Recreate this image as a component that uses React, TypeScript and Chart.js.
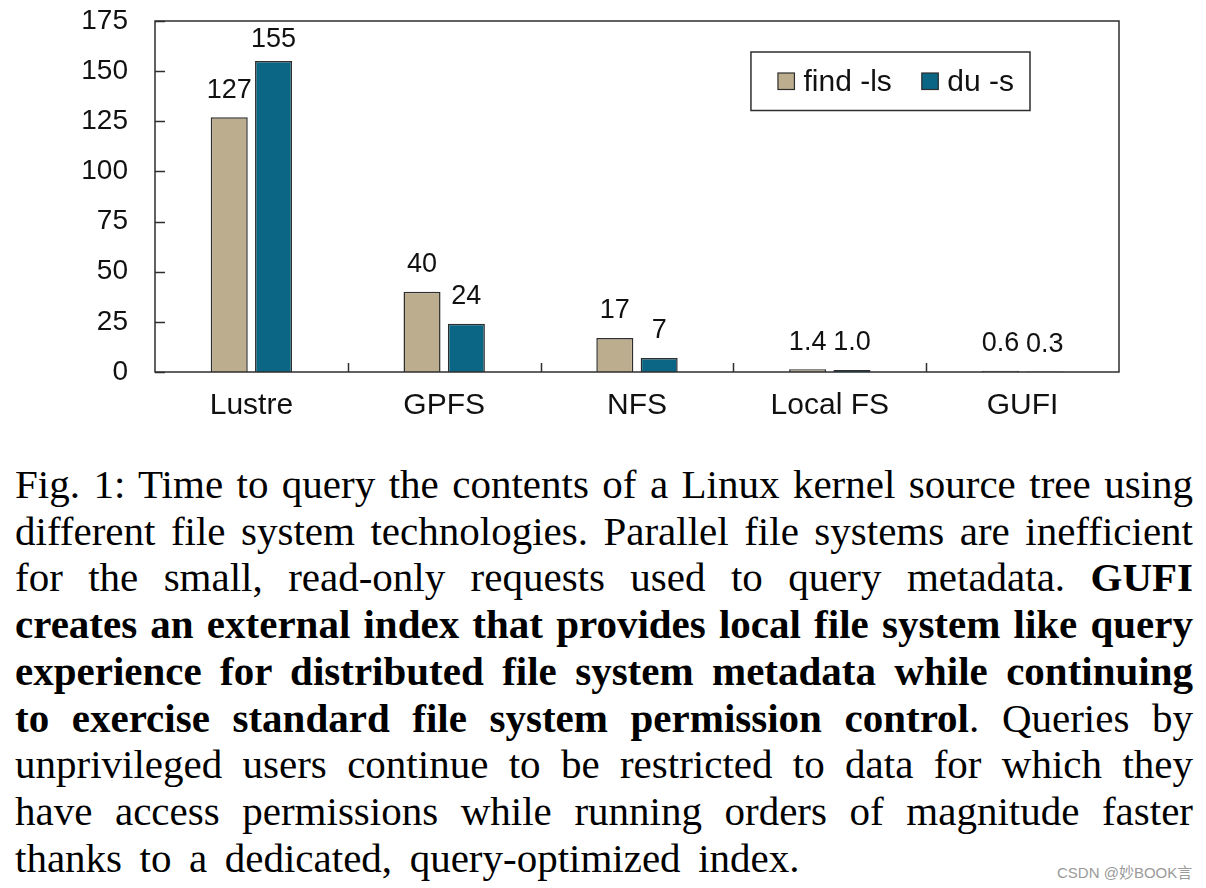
import React, { useEffect, useRef } from 'react';
import { Chart, registerables } from 'chart.js';

Chart.register(...registerables);

const categories = ['Lustre', 'GPFS', 'NFS', 'Local FS', 'GUFI'];
const seriesNames = ['find -ls', 'du -s'];
const findLs = [127, 40, 17, 1.4, 0.6];
const duS = [155, 24, 7, 1.0, 0.3];
const findLsLabels = ['127', '40', '17', '1.4', '0.6'];
const duSLabels = ['155', '24', '7', '1.0', '0.3'];
const yTicks = [0, 25, 50, 75, 100, 125, 150, 175];
const seriesColors = ['#BBAD8D', '#0B6584'];

const SANS = '"Liberation Sans", Arial, sans-serif';
const INK = '#111';
const LINE = '#2e2e2e';

const customPlugin = {
  id: 'figureDecor',
  afterDatasetsDraw(chart: any) {
    const { ctx, chartArea: a, scales } = chart;
    const x = scales.x;
    const y = scales.y;
    ctx.save();
    ctx.strokeStyle = LINE;
    ctx.lineWidth = 1.5;
    ctx.strokeRect(a.left, a.top, a.right - a.left, a.bottom - a.top);
    // inward y ticks
    ctx.beginPath();
    yTicks.forEach((v) => {
      const py = Math.round(y.getPixelForValue(v)) + 0.5;
      ctx.moveTo(a.left, py);
      ctx.lineTo(a.left + 10, py);
    });
    // inward x ticks at category boundaries
    for (let i = 1; i < categories.length; i++) {
      const px = Math.round(x.getPixelForValue(i - 0.5)) + 0.5;
      ctx.moveTo(px, a.bottom);
      ctx.lineTo(px, a.bottom - 9);
    }
    ctx.stroke();

    // data labels
    const labelSets = [findLsLabels, duSLabels];
    ctx.font = `27px ${SANS}`;
    ctx.fillStyle = INK;
    ctx.textAlign = 'center';
    ctx.textBaseline = 'alphabetic';
    chart.data.datasets.forEach((ds: any, di: number) => {
      const meta = chart.getDatasetMeta(di);
      meta.data.forEach((el: any, i: number) => {
        const by = Math.max(el.y - 19.5, a.top + 26);
        ctx.fillText(labelSets[di][i], el.x, by);
      });
    });

    // legend box
    ctx.font = `30px ${SANS}`;
    const sq = 16.5;
    const padL = 27;
    const padR = 16;
    const textGap = 9;
    const itemGap = 30;
    const widths = chart.data.datasets.map((ds: any) => ctx.measureText(ds.label).width);
    let total = padL + padR;
    widths.forEach((w: number, i: number) => {
      total += sq + textGap + w + (i < widths.length - 1 ? itemGap : 0);
    });
    const boxRight = a.right - 89;
    const boxTop = a.top + 31;
    const boxH = 58.5;
    const boxLeft = boxRight - total;
    ctx.fillStyle = '#fff';
    ctx.fillRect(boxLeft, boxTop, total, boxH);
    ctx.strokeStyle = LINE;
    ctx.lineWidth = 1.5;
    ctx.strokeRect(boxLeft, boxTop, total, boxH);
    let cx = boxLeft + padL;
    const cy = boxTop + boxH / 2;
    chart.data.datasets.forEach((ds: any, i: number) => {
      ctx.fillStyle = ds.backgroundColor;
      ctx.fillRect(cx, cy - sq / 2, sq, sq);
      ctx.strokeStyle = LINE;
      ctx.lineWidth = 1.2;
      ctx.strokeRect(cx, cy - sq / 2, sq, sq);
      ctx.fillStyle = INK;
      ctx.textAlign = 'left';
      ctx.textBaseline = 'middle';
      ctx.fillText(ds.label, cx + sq + textGap, cy + 1);
      cx += sq + textGap + widths[i] + itemGap;
    });
    ctx.restore();
  },
};

function BarChart() {
  const ref = useRef<HTMLCanvasElement | null>(null);
  useEffect(() => {
    if (!ref.current) return;
    const chart = new Chart(ref.current, {
      type: 'bar',
      data: {
        labels: categories,
        datasets: [
          {
            label: seriesNames[0],
            data: findLs,
            backgroundColor: seriesColors[0],
            borderColor: LINE,
            borderWidth: 1.5,
            categoryPercentage: 0.46,
            barPercentage: 0.835,
          },
          {
            label: seriesNames[1],
            data: duS,
            backgroundColor: seriesColors[1],
            borderColor: LINE,
            borderWidth: 1.5,
            categoryPercentage: 0.46,
            barPercentage: 0.835,
          },
        ],
      },
      options: {
        responsive: false,
        animation: false,
        events: [],
        layout: { padding: { top: 21, right: 87, left: 0, bottom: 0 } },
        plugins: {
          legend: { display: false },
          tooltip: { enabled: false },
          title: { display: false },
        },
        scales: {
          x: {
            grid: { display: false, drawTicks: false },
            border: { display: false },
            ticks: { color: INK, font: { family: SANS, size: 30 }, padding: 16, maxRotation: 0 },
            afterFit: (s: any) => {
              s.height = 68;
              s.paddingLeft = 0;
              s.paddingRight = 0;
            },
          },
          y: {
            min: 0,
            max: 175,
            afterBuildTicks: (s: any) => {
              s.ticks = yTicks.map((v) => ({ value: v }));
            },
            grid: { display: false, drawTicks: false },
            border: { display: false },
            ticks: { color: INK, font: { family: SANS, size: 28 }, padding: 27 },
            afterFit: (s: any) => {
              s.width = 155;
              s.paddingTop = 0;
              s.paddingBottom = 0;
            },
          },
        },
      },
      plugins: [customPlugin],
    } as any);
    return () => chart.destroy();
  }, []);
  return <canvas ref={ref} width={1206} height={440} style={{ display: 'block' }} />;
}

const lineStyle: React.CSSProperties = { textAlign: 'justify', textAlignLast: 'justify' } as any;

export default function App() {
  return (
    <div
      style={{
        position: 'absolute',
        left: 0,
        top: 0,
        width: 1206,
        height: 888,
        background: '#fff',
        overflow: 'hidden',
      }}
    >
      <BarChart />
      <div
        style={{
          position: 'absolute',
          left: 15,
          top: 461,
          width: 1178,
          fontFamily: '"Liberation Serif", "Times New Roman", serif',
          fontSize: 41,
          lineHeight: '46.7px',
          color: '#000',
        }}
      >
        <div style={lineStyle}>Fig. 1: Time to query the contents of a Linux kernel source tree using</div>
        <div style={lineStyle}>different file system technologies. Parallel file systems are inefficient</div>
        <div style={lineStyle}>
          for the small, read-only requests used to query metadata. <b>GUFI</b>
        </div>
        <div style={lineStyle}>
          <b>creates an external index that provides local file system like query</b>
        </div>
        <div style={lineStyle}>
          <b>experience for distributed file system metadata while continuing</b>
        </div>
        <div style={lineStyle}>
          <b>to exercise standard file system permission control</b>. Queries by
        </div>
        <div style={lineStyle}>unprivileged users continue to be restricted to data for which they</div>
        <div style={lineStyle}>have access permissions while running orders of magnitude faster</div>
        <div style={{ wordSpacing: 7.3 }}>thanks to a dedicated, query-optimized index.</div>
      </div>
      <div
        style={{
          position: 'absolute',
          left: 1057,
          top: 861,
          fontFamily: '"Liberation Sans", "Noto Sans CJK SC", sans-serif',
          fontSize: 15,
          color: '#9a9a9a',
          whiteSpace: 'nowrap',
        }}
      >
        CSDN @妙BOOK言
      </div>
    </div>
  );
}
